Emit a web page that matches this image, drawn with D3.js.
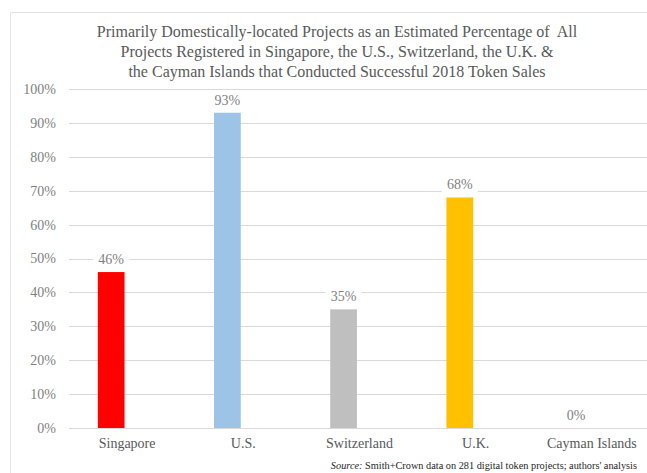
<!DOCTYPE html>
<html>
<head>
<meta charset="utf-8">
<script src="https://cdn.jsdelivr.net/npm/d3@7/dist/d3.min.js"></script>
<style>
  html, body { margin: 0; padding: 0; background: #fff; }
  svg { display: block; }
  text { font-family: "Liberation Serif", "Times New Roman", "DejaVu Serif", serif; }
</style>
</head>
<body>
<svg id="chart" width="647" height="473"></svg>
<script>
// Jurisdictions and the share of their projects that are primarily domestic
const categories = ["Singapore", "U.S.", "Switzerland", "U.K.", "Cayman Islands"];
const shares = [46, 93, 35, 68, 0];
const barColors = ["#FF0000", "#9DC3E6", "#BFBFBF", "#FFC000", "#A5A5A5"];
const yTicks = [0, 10, 20, 30, 40, 50, 60, 70, 80, 90, 100];
const titleLines = [
  "Primarily Domestically-located Projects as an Estimated Percentage of  All",
  "Projects Registered in Singapore, the U.S., Switzerland, the U.K. &",
  "the Cayman Islands that Conducted Successful 2018 Token Sales"
];

const svg = d3.select("#chart");
const W = 647, H = 473;
const plot = { left: 69, right: 650, top: 89, bottom: 428 };

// frame of the chart object
svg.append("path")
  .attr("d", `M10.5,${H} V12.5 H${W}`)
  .attr("fill", "none")
  .attr("stroke", "#e3e3e3")
  .attr("stroke-width", 1);

// title
const title = svg.append("text")
  .attr("text-anchor", "middle")
  .attr("fill", "#595959")
  .attr("font-size", 16)
  .attr("xml:space", "preserve");
titleLines.forEach((line, i) => {
  title.append("tspan")
    .attr("x", 337)
    .attr("y", 37 + i * 20)
    .text(line);
});

const x = d3.scaleBand()
  .domain(categories)
  .range([plot.left, plot.right])
  .paddingInner(0)
  .paddingOuter(0);

const y = d3.scaleLinear()
  .domain([0, 100])
  .range([plot.bottom, plot.top]);

// horizontal gridlines
svg.append("g")
  .selectAll("line")
  .data(yTicks)
  .join("line")
  .attr("x1", plot.left)
  .attr("x2", W)
  .attr("y1", d => Math.round(y(d)) + 0.5)
  .attr("y2", d => Math.round(y(d)) + 0.5)
  .attr("stroke", "#d9d9d9")
  .attr("stroke-width", 1);

// y axis labels
const yAxis = d3.axisLeft(y)
  .tickValues(yTicks)
  .tickFormat(d => d + "%")
  .tickSize(0)
  .tickPadding(0);
const gy = svg.append("g")
  .attr("transform", `translate(56,0)`)
  .call(yAxis);
gy.select(".domain").remove();
gy.selectAll("text")
  .attr("font-family", "'Liberation Serif', serif")
  .attr("font-size", 14)
  .attr("fill", "#7f7f7f")
  .attr("dy", "0.32em");

// bars sit left of each category centre (clustered slot of an Excel-style chart)
const bw = x.bandwidth();
const barW = bw * 0.23;
const barX = c => x(c) + bw / 2 - bw * 0.137 - barW / 2;

svg.append("g")
  .selectAll("rect")
  .data(categories)
  .join("rect")
  .attr("x", c => barX(c))
  .attr("width", barW)
  .attr("y", (c, i) => y(shares[i]))
  .attr("height", (c, i) => y(0) - y(shares[i]))
  .attr("fill", (c, i) => barColors[i]);

// value labels with a white backing that breaks the gridlines
const labels = svg.append("g")
  .selectAll("g")
  .data(categories)
  .join("g")
  .attr("transform", (c, i) => `translate(${barX(c) + barW / 2},${y(shares[i]) - 13})`);
labels.append("rect")
  .attr("x", -18).attr("y", -9)
  .attr("width", 36).attr("height", 18)
  .attr("fill", "#fff");
labels.append("text")
  .attr("text-anchor", "middle")
  .attr("dy", "0.35em")
  .attr("font-size", 14)
  .attr("fill", "#7f7f7f")
  .text((c, i) => shares[i] + "%");

// category axis
const xAxis = d3.axisBottom(x).tickSize(0).tickPadding(0);
const gx = svg.append("g")
  .attr("transform", `translate(0,448)`)
  .call(xAxis);
gx.select(".domain").remove();
gx.selectAll("text")
  .attr("font-family", "'Liberation Serif', serif")
  .attr("font-size", 14)
  .attr("fill", "#595959")
  .attr("dy", 0);

// source note
const src = svg.append("text")
  .attr("x", 637)
  .attr("y", 469)
  .attr("text-anchor", "end")
  .attr("font-size", 10.3)
  .attr("fill", "#262626");
src.append("tspan").attr("font-style", "italic").text("Source:");
src.append("tspan").text(" Smith+Crown data on 281 digital token projects; authors' analysis");
</script>
</body>
</html>
